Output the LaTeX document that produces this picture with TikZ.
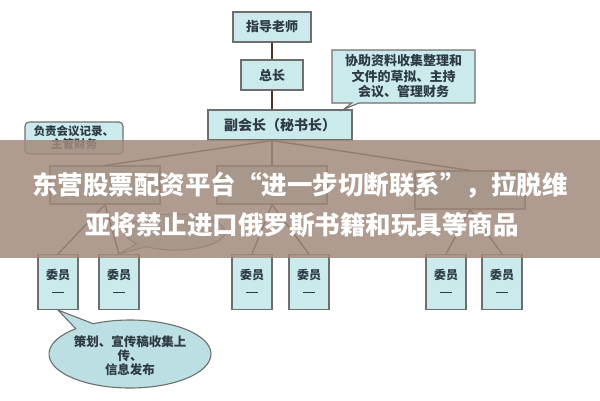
\documentclass[tikz,border=0pt]{standalone}
\usepackage{fontspec}
\setmainfont{Noto Sans CJK SC}
\usetikzlibrary{shapes.callouts,shapes.geometric,calc}
\definecolor{boxfill}{HTML}{CBEAEC}
\definecolor{boxfilltwo}{HTML}{BCDFE3}
\definecolor{boxline}{HTML}{6E6E6E}
\definecolor{linkc}{HTML}{45362C}
\definecolor{ink}{HTML}{2E3B45}
\definecolor{band}{RGB}{162,138,124}
\begin{document}
\begin{tikzpicture}[x=1pt,y=-1pt,
  box/.style={draw=boxline, line width=1.1pt, fill=boxfill, text=ink, inner sep=0pt, font=\bfseries\fontsize{13}{15}\selectfont},
  member/.style={box, minimum width=40pt, minimum height=55pt, align=center, font=\bfseries\fontsize{12}{13}\selectfont},
  conn/.style={draw=linkc, line width=1.4pt},
  bandtext/.style={text=white, inner sep=0pt, font=\bfseries\fontsize{25.5}{27}\selectfont}]
\useasboundingbox (0,0) rectangle (600,400);
% top chain
\node[box, minimum width=78pt, minimum height=30pt] (zd) at (272,27) {指导老师};
\node[box, minimum width=62pt, minimum height=30pt] (zz) at (272,75) {总长};
\node[box, minimum width=144pt, minimum height=30pt, font=\bfseries\fontsize{14}{16}\selectfont] (vp) at (280,125) {副会长（秘书长）};
\draw[conn] (zd.south) -- (zz.north);
\draw[conn] (zz.south) -- (zz.south |- vp.north);
% right callout
\coordinate (rcp) at ($(vp.north east)+(-9,0)$);
\node[box, rectangle callout, minimum width=143pt, minimum height=53pt, align=center,
  font=\bfseries\fontsize{13}{15.5}\selectfont,
  callout absolute pointer={(rcp)}] (rc) at (403.5,76.5) {协助资料收集整理和\\文件的草拟、主持\\会议、管理财务};
% left callout
\node[box, rounded corners=4pt, minimum width=98pt, minimum height=32pt, align=center,
  font=\bfseries\fontsize{11.5}{13}\selectfont] (lc) at (74,138) {负责会议记录、\\主管财务};
% children
\node[box, minimum width=110pt, minimum height=38pt] (c1) at (105,185) {};
\node[box, minimum width=110pt, minimum height=38pt] (c2) at (272,185) {};
\node[box, minimum width=110pt, minimum height=38pt] (c3) at (470,190) {};
\coordinate (fan) at (vp.south -| zz.south);
\draw[conn] (fan) -- (c1.north);
\draw[conn] (fan) -- (c2.north);
\draw[conn] (fan) -- (c3.north);
% members
\newcommand{\memdash}{\textcolor{ink}{\rule[2pt]{12pt}{0.9pt}}}
\node[member] (b1) at (58,282) {委员\\[3pt]\memdash};
\node[member] (b2) at (119,282) {委员\\[3pt]\memdash};
\node[member] (b3) at (252,282) {委员\\[3pt]\memdash};
\node[member] (b4) at (309,282) {委员\\[3pt]\memdash};
\node[member] (b5) at (446,282) {委员\\[3pt]\memdash};
\node[member] (b6) at (502,282) {委员\\[3pt]\memdash};
\draw[conn] (c1.south) -- (b1.north);
\draw[conn] (c1.south) -- (b2.north);
\draw[conn] (c2.south) -- (b3.north);
\draw[conn] (c2.south) -- (b4.north);
\draw[conn] (c3.south) -- (b5.north);
\draw[conn] (c3.south) -- (b6.north);
% ellipse callouts
\node[box, ellipse callout, minimum width=100pt, minimum height=36pt,
  callout absolute pointer={(b2.north)}] (el2) at (175,232) {};
\node[box, ellipse callout, fill=boxfilltwo, minimum width=162pt, minimum height=68pt,
  callout absolute pointer={(b1.south)}] (el) at (130,354) {};
\node[text=ink, align=center, inner sep=0pt, font=\bfseries\fontsize{12.5}{14}\selectfont] (elt) at (130,356) {策划、宣传稿收集上\\传、\\信息发布};
% overlay band
\fill[band, opacity=0.85] (0,140) rectangle (600,258);
\node[bandtext] (t1) at (300,185) {东营股票配资平台“进一步切断联系”，拉脱维};
\node[bandtext] (t2) at (302,225) {亚将禁止进口俄罗斯书籍和玩具等商品};
\end{tikzpicture}
\end{document}
